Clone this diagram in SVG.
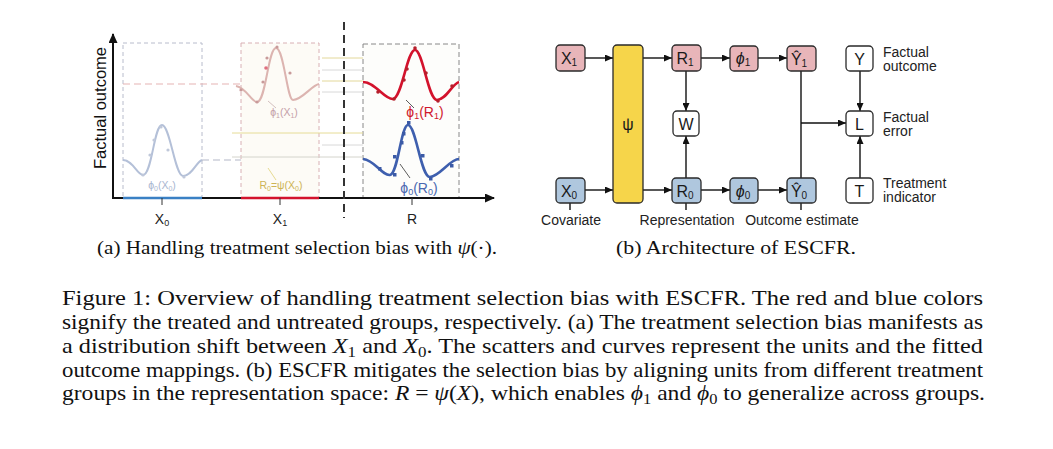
<svg xmlns="http://www.w3.org/2000/svg" width="1053" height="449" viewBox="0 0 1053 449">
<style>
.sans{font-family:"Liberation Sans",Arial,sans-serif}
.serif{font-family:"Liberation Serif","Times New Roman",serif}
.nd rect{stroke:#2a2a2a;stroke-width:1.3}
.red{fill:#e8b5b9}
.blue{fill:#afc7de}
.wht{fill:#ffffff}
.yel{fill:#f6d54a}
.nt{font-family:"Liberation Sans",Arial,sans-serif;font-size:16px;fill:#1a1a1a;text-anchor:middle}
.edge{stroke:#111;stroke-width:1.4;fill:none}
.lbl{font-family:"Liberation Sans",Arial,sans-serif;font-size:14px;fill:#222}
.cap{font-family:"Liberation Serif","Times New Roman",serif;font-size:21.5px;fill:#111}
</style>
<defs>
<marker id="ah" markerWidth="8" markerHeight="7" refX="8" refY="3.5" orient="auto" markerUnits="userSpaceOnUse">
<path d="M0,0 L8,3.5 L0,7 z" fill="#111"/>
</marker>
<marker id="axa" markerWidth="10" markerHeight="9" refX="9" refY="4.5" orient="auto" markerUnits="userSpaceOnUse">
<path d="M0,0 L10,4.5 L0,9 z" fill="#111"/>
</marker>
</defs>
<rect width="1053" height="449" fill="#ffffff"/>

<!-- Left plot (a) -->
<g id="plot-a">
  <rect x="123" y="43" width="79" height="155" fill="none" stroke="#b8bccc" stroke-width="1" stroke-dasharray="4 3"/>
  <rect x="241" y="43" width="78" height="155" fill="#fdfbf6" stroke="#d8b0b4" stroke-width="1" stroke-dasharray="4 3"/>
  <rect x="363" y="44" width="96" height="154" fill="#fdfdfb" stroke="#888" stroke-width="1" stroke-dasharray="5 3"/>
  <line x1="123" y1="84" x2="240" y2="84" stroke="#e6b4b4" stroke-width="1.2" stroke-dasharray="7 4"/>
  <line x1="202" y1="160" x2="241" y2="160" stroke="#b4b8c8" stroke-width="1.2" stroke-dasharray="7 4"/>
  <g stroke-width="1">
    <line x1="322" y1="58" x2="363" y2="58" stroke="#e3d89a"/>
    <line x1="322" y1="70" x2="363" y2="70" stroke="#d8d8d8"/>
    <line x1="322" y1="81" x2="363" y2="81" stroke="#e3d89a"/>
    <line x1="322" y1="92" x2="363" y2="92" stroke="#d8d8d8"/>
    <line x1="232" y1="133" x2="363" y2="133" stroke="#e6dc96"/>
    <line x1="322" y1="145" x2="363" y2="145" stroke="#d8d8d8"/>
    <line x1="232" y1="157" x2="363" y2="157" stroke="#d4d4cc"/>
  </g>
  <path d="M123,160 C133,160 137,175 143,175 C152,175 154,125 162,125 C170,125 175,176 183,176 C192,176 196,162 202,160" fill="none" stroke="#b4c0d8" stroke-width="2"/>
  <path d="M236,86 C247,88 251,102 257,102 C266,102 268,48 276,48 C284,48 287,100 293,100 C302,100 312,85 319,84" fill="none" stroke="#dcb4b0" stroke-width="2"/>
  <g fill="#c0c8da">
    <circle cx="143" cy="175" r="1.6"/><circle cx="150" cy="155" r="1.6"/><circle cx="154" cy="140" r="1.6"/>
    <circle cx="161" cy="127" r="1.6"/><circle cx="168" cy="150" r="1.6"/><circle cx="184" cy="177" r="1.6"/>
  </g>
  <g fill="#c89a9a">
    <circle cx="241" cy="90" r="1.6"/><circle cx="257" cy="102" r="1.6"/><circle cx="263" cy="82" r="1.6"/>
    <circle cx="266" cy="68" r="1.8" fill="#e07080"/><circle cx="267" cy="58" r="1.6"/><circle cx="277" cy="47" r="1.6"/>
    <circle cx="290" cy="73" r="1.6"/>
  </g>
  <line x1="268" y1="101" x2="276" y2="108" stroke="#c8b0b0" stroke-width="0.8"/>
  <text x="284" y="116" class="sans" font-size="10.5" fill="#c4a0a8" text-anchor="middle">ϕ<tspan font-size="7" dy="2">1</tspan><tspan dy="-2">(X</tspan><tspan font-size="7" dy="2">1</tspan><tspan dy="-2">)</tspan></text>
  <text x="162" y="189" class="sans" font-size="10.5" fill="#a8b6d0" text-anchor="middle">ϕ<tspan font-size="7" dy="2">0</tspan><tspan dy="-2">(X</tspan><tspan font-size="7" dy="2">0</tspan><tspan dy="-2">)</tspan></text>
  <line x1="268" y1="168" x2="276" y2="180" stroke="#e0d278" stroke-width="0.8"/>
  <text x="281" y="189" class="sans" font-size="10.5" fill="#cdb455" text-anchor="middle">R<tspan font-size="7" dy="2">0</tspan><tspan dy="-2">=ψ(X</tspan><tspan font-size="7" dy="2">0</tspan><tspan dy="-2">)</tspan></text>
  <path d="M363,82 C375,82 385,100 393,99 C402,98 407,50 415,50 C423,50 428,100 437,100 C446,100 452,84 459,82" fill="none" stroke="#d3122c" stroke-width="2.6"/>
  <path d="M363,159 C375,160 382,176 390,175 C398,174 401,125 408,125 C416,125 421,178 430,177 C440,176 450,159 459,159" fill="none" stroke="#3e5fae" stroke-width="2.6"/>
  <g fill="#b4202c">
    <circle cx="378" cy="92" r="1.8"/><circle cx="394" cy="99" r="1.8"/><circle cx="404" cy="80" r="1.8"/>
    <circle cx="407" cy="69" r="1.8"/><circle cx="415" cy="48" r="1.8"/><circle cx="426" cy="73" r="1.8"/>
    <circle cx="438" cy="101" r="1.8"/><circle cx="452" cy="86" r="1.8"/>
  </g>
  <g fill="#3b5aa6">
    <rect x="378" y="167" width="3.5" height="3.5"/><rect x="393" y="173" width="3.5" height="3.5"/>
    <rect x="393" y="155" width="3.5" height="3.5"/><rect x="400" y="141" width="3.5" height="3.5"/>
    <rect x="402" y="132" width="3.5" height="3.5"/><rect x="407" y="121" width="3.5" height="3.5"/>
    <rect x="421" y="154" width="3.5" height="3.5"/><rect x="429" y="177" width="3.5" height="3.5"/>
    <rect x="450" y="164" width="3.5" height="3.5"/>
  </g>
  <line x1="406" y1="100" x2="414" y2="108" stroke="#333" stroke-width="0.8"/>
  <line x1="400" y1="164" x2="410" y2="178" stroke="#333" stroke-width="0.8"/>
  <text x="425" y="117" class="sans" font-size="14" fill="#d0182c" text-anchor="middle">ϕ<tspan font-size="9" dy="2">1</tspan><tspan dy="-2">(R</tspan><tspan font-size="9" dy="2">1</tspan><tspan dy="-2">)</tspan></text>
  <text x="419" y="193" class="sans" font-size="14" fill="#4a68b0" text-anchor="middle">ϕ<tspan font-size="9" dy="2">0</tspan><tspan dy="-2">(R</tspan><tspan font-size="9" dy="2">0</tspan><tspan dy="-2">)</tspan></text>
  <line x1="113" y1="198" x2="113" y2="34" stroke="#111" stroke-width="2" marker-end="url(#axa)"/>
  <line x1="112" y1="198" x2="494" y2="198" stroke="#111" stroke-width="2" marker-end="url(#axa)"/>
  <line x1="123" y1="198" x2="202" y2="198" stroke="#3a80c4" stroke-width="2.6"/>
  <line x1="241" y1="198" x2="319" y2="198" stroke="#d3122c" stroke-width="2.6"/>
  <line x1="162" y1="198" x2="162" y2="205" stroke="#333" stroke-width="1"/>
  <line x1="280" y1="198" x2="280" y2="205" stroke="#333" stroke-width="1"/>
  <line x1="412" y1="198" x2="412" y2="205" stroke="#333" stroke-width="1"/>
  <line x1="344" y1="22" x2="344" y2="218" stroke="#333" stroke-width="2" stroke-dasharray="8 5"/>
  <text x="106" y="108" class="sans" font-size="16.5" fill="#111" text-anchor="middle" transform="rotate(-90 106 108)">Factual outcome</text>
  <text x="162" y="224" class="sans" font-size="14" fill="#222" text-anchor="middle">X<tspan font-size="9" dy="2">0</tspan></text>
  <text x="280" y="224" class="sans" font-size="14" fill="#222" text-anchor="middle">X<tspan font-size="9" dy="2">1</tspan></text>
  <text x="412" y="224" class="sans" font-size="14" fill="#222" text-anchor="middle">R</text>
</g>

<!-- Right diagram (b) -->
<g id="connectors">
  <line class="edge" x1="585" y1="58" x2="613" y2="58" marker-end="url(#ah)"/>
  <line class="edge" x1="585" y1="190" x2="613" y2="190" marker-end="url(#ah)"/>
  <line class="edge" x1="643" y1="58" x2="672" y2="58" marker-end="url(#ah)"/>
  <line class="edge" x1="643" y1="190" x2="672" y2="190" marker-end="url(#ah)"/>
  <line class="edge" x1="686" y1="71" x2="686" y2="111" marker-end="url(#ah)"/>
  <line class="edge" x1="686" y1="178" x2="686" y2="136" marker-end="url(#ah)"/>
  <line class="edge" x1="701" y1="58" x2="730" y2="58" marker-end="url(#ah)"/>
  <line class="edge" x1="758" y1="58" x2="787" y2="58" marker-end="url(#ah)"/>
  <line class="edge" x1="701" y1="190" x2="730" y2="190" marker-end="url(#ah)"/>
  <line class="edge" x1="758" y1="190" x2="787" y2="190" marker-end="url(#ah)"/>
  <line class="edge" x1="801" y1="71" x2="801" y2="178"/>
  <line class="edge" x1="801" y1="123" x2="846" y2="123" marker-end="url(#ah)"/>
  <line class="edge" x1="860" y1="71" x2="860" y2="111" marker-end="url(#ah)"/>
  <line class="edge" x1="860" y1="178" x2="860" y2="136" marker-end="url(#ah)"/>
  <line class="edge" x1="570" y1="203" x2="570" y2="210" stroke-width="1"/>
  <line class="edge" x1="686" y1="203" x2="686" y2="210" stroke-width="1"/>
  <line class="edge" x1="801" y1="203" x2="801" y2="210" stroke-width="1"/>
</g>
<g id="n-x1" class="nd"><rect class="red" x="556" y="45" width="29" height="26" rx="4"/><text class="nt" x="569" y="64">X<tspan font-size="10" dy="2">1</tspan></text></g>
<g id="n-x0" class="nd"><rect class="blue" x="556" y="178" width="29" height="25" rx="4"/><text class="nt" x="569" y="197">X<tspan font-size="10" dy="2">0</tspan></text></g>
<g id="n-psi" class="nd"><rect class="yel" x="613" y="45" width="30" height="158" rx="4"/><text class="nt" x="628" y="130">ψ</text></g>
<g id="n-r1" class="nd"><rect class="red" x="672" y="45" width="29" height="26" rx="4"/><text class="nt" x="685" y="64">R<tspan font-size="10" dy="2">1</tspan></text></g>
<g id="n-r0" class="nd"><rect class="blue" x="672" y="178" width="29" height="25" rx="4"/><text class="nt" x="685" y="197">R<tspan font-size="10" dy="2">0</tspan></text></g>
<g id="n-w" class="nd"><rect class="wht" x="673" y="111" width="26" height="25" rx="4"/><text class="nt" x="686" y="130" font-size="17">W</text></g>
<g id="n-phi1" class="nd"><rect class="red" x="730" y="46" width="28" height="25" rx="4"/><text class="nt" x="743" y="64" font-style="italic">ϕ<tspan font-size="10" dy="2" font-style="normal">1</tspan></text></g>
<g id="n-phi0" class="nd"><rect class="blue" x="730" y="178" width="28" height="25" rx="4"/><text class="nt" x="743" y="197" font-style="italic">ϕ<tspan font-size="10" dy="2" font-style="normal">0</tspan></text></g>
<g id="n-yhat1" class="nd"><rect class="red" x="787" y="46" width="29" height="25" rx="4"/><text class="nt" x="799" y="65">Ŷ<tspan font-size="10" dy="2">1</tspan></text></g>
<g id="n-yhat0" class="nd"><rect class="blue" x="787" y="178" width="29" height="25" rx="4"/><text class="nt" x="799" y="197">Ŷ<tspan font-size="10" dy="2">0</tspan></text></g>
<g id="n-y" class="nd"><rect class="wht" x="846" y="46" width="27" height="25" rx="4"/><text class="nt" x="859.5" y="65" font-size="18">Y</text></g>
<g id="n-l" class="nd"><rect class="wht" x="846" y="111" width="27" height="25" rx="4"/><text class="nt" x="859.5" y="130" font-size="18">L</text></g>
<g id="n-t" class="nd"><rect class="wht" x="846" y="178" width="27" height="25" rx="4"/><text class="nt" x="859.5" y="197" font-size="18">T</text></g>
<g id="labels-b">
  <text class="lbl" x="883" y="57">Factual</text>
  <text class="lbl" x="883" y="71">outcome</text>
  <text class="lbl" x="883" y="122">Factual</text>
  <text class="lbl" x="883" y="136">error</text>
  <text class="lbl" x="883" y="188">Treatment</text>
  <text class="lbl" x="883" y="202">indicator</text>
  <text class="lbl" x="571" y="225" text-anchor="middle">Covariate</text>
  <text class="lbl" x="687" y="225" text-anchor="middle">Representation</text>
  <text class="lbl" x="802" y="225" text-anchor="middle">Outcome estimate</text>
</g>

<text class="serif" x="97" y="254" font-size="19.5" fill="#111" textLength="400" lengthAdjust="spacingAndGlyphs">(a)  Handling treatment selection bias with <tspan font-style="italic">ψ</tspan>(·).</text>
<text class="serif" x="616" y="254" font-size="19.5" fill="#111" textLength="240" lengthAdjust="spacingAndGlyphs">(b)  Architecture of ESCFR.</text>

<g id="caption">
<text class="cap" x="62" y="305" textLength="921" lengthAdjust="spacingAndGlyphs">Figure 1:  Overview of handling treatment selection bias with ESCFR. The red and blue colors</text>
<text class="cap" x="62" y="329" textLength="921" lengthAdjust="spacingAndGlyphs">signify the treated and untreated groups, respectively. (a) The treatment selection bias manifests as</text>
<text class="cap" x="62" y="353" textLength="921" lengthAdjust="spacingAndGlyphs">a distribution shift between <tspan font-style="italic">X</tspan><tspan font-size="15" dy="4">1</tspan><tspan dy="-4"> and </tspan><tspan font-style="italic">X</tspan><tspan font-size="15" dy="4">0</tspan><tspan dy="-4">. The scatters and curves represent the units and the fitted</tspan></text>
<text class="cap" x="62" y="377" textLength="921" lengthAdjust="spacingAndGlyphs">outcome mappings. (b) ESCFR mitigates the selection bias by aligning units from different treatment</text>
<text class="cap" x="62" y="400" textLength="923" lengthAdjust="spacingAndGlyphs">groups in the representation space: <tspan font-style="italic">R</tspan> = <tspan font-style="italic">ψ</tspan>(<tspan font-style="italic">X</tspan>), which enables <tspan font-style="italic">ϕ</tspan><tspan font-size="15" dy="4">1</tspan><tspan dy="-4"> and </tspan><tspan font-style="italic">ϕ</tspan><tspan font-size="15" dy="4">0</tspan><tspan dy="-4"> to generalize across groups.</tspan></text>
</g>
</svg>
